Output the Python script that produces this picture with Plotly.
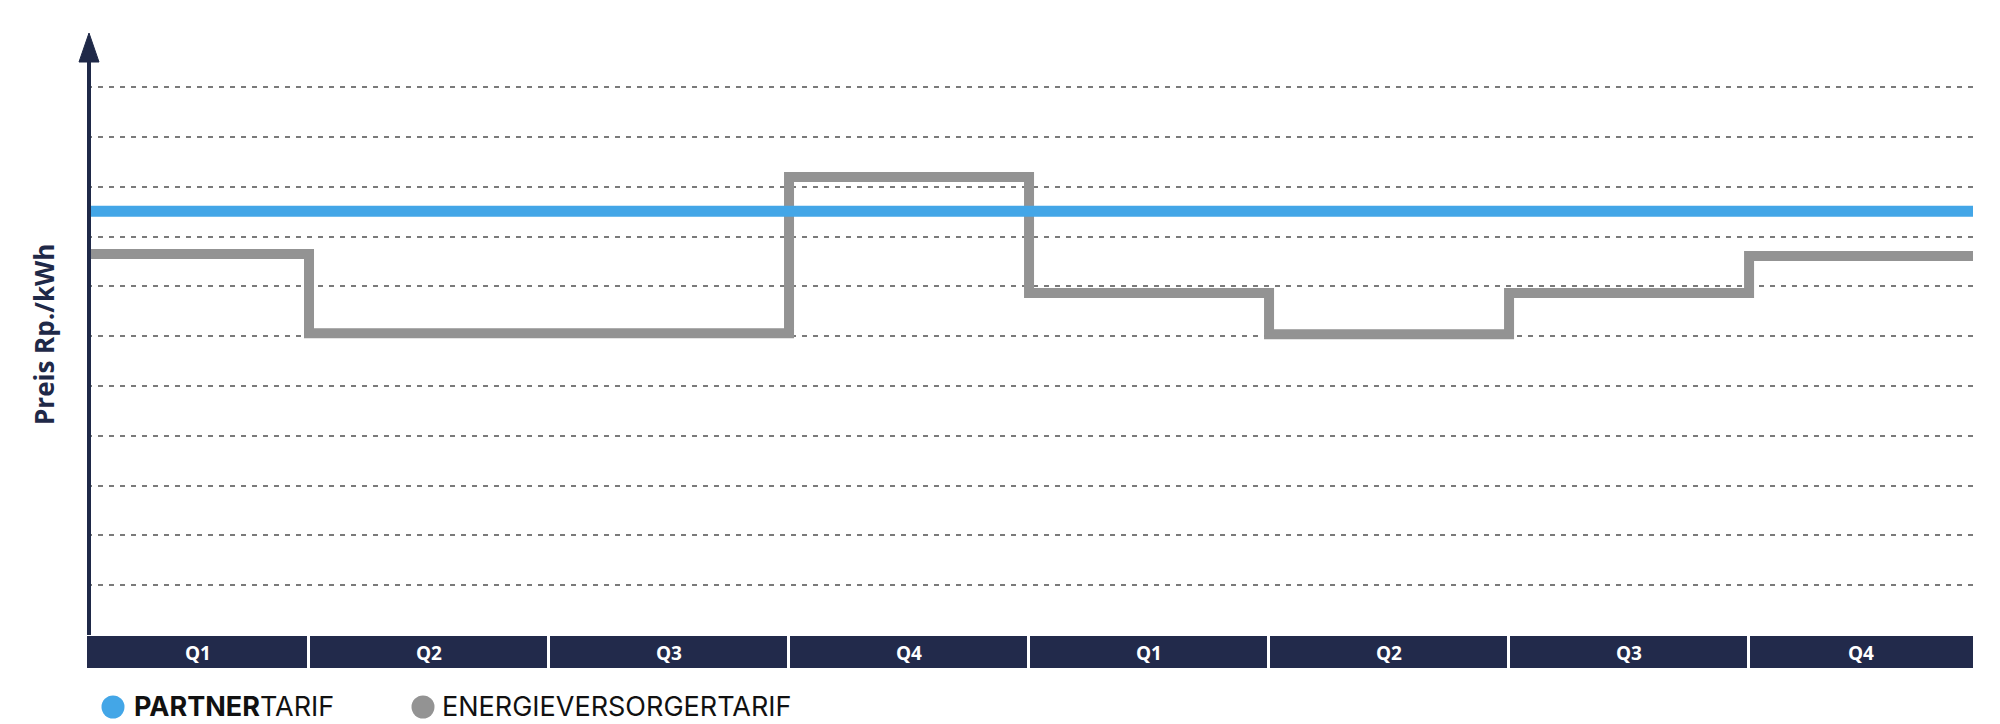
import plotly.graph_objects as go

# ---- data ----
quarters = ["Q1", "Q2", "Q3", "Q4", "Q1", "Q2", "Q3", "Q4"]
quarter_start = [0, 1, 2, 3, 4, 5, 6, 7]
partner_tarif = [8.51, 8.51]            # flat partner tariff
versorger_tarif = [7.65, 6.06, 6.06, 9.20, 6.87, 6.04, 6.87, 7.61]
grid_levels = [1, 2, 3, 4, 5, 6, 7, 8, 9, 10, 11]

# ---- styling ----
NAVY = "#1f2948"
BAND = "#222a4b"
BLUE = "#43a6e7"
GRAY = "#939393"
GRID = "#7a7a7a"
FONT = "Open Sans"
LEG_FONT = "Inter"

X_LO, X_HI = 0.075, 7.933
Y_LO, Y_HI = -0.703, 12.09
band_h = -Y_LO

# page has an 8px body margin; plot area spans x 87..1973, y 33..670 on screen
OFF = 8
W, H = 1886.0, 637.0
LEFT, BOTTOM = 87, 670


def px_x(p):
    return (p - LEFT) / W


def px_y(p):
    return (BOTTOM - p) / H


fig = go.Figure()

# quarter band as bars
fig.add_trace(go.Bar(
    x=[q + 0.5 for q in quarter_start], y=[band_h] * len(quarters), base=Y_LO,
    width=1, marker=dict(color=BAND, line=dict(color="white", width=3)),
    showlegend=False, hoverinfo="skip"))

# energy supplier tariff (step line)
xs = quarter_start + [quarter_start[-1] + 1]
ys = versorger_tarif + [versorger_tarif[-1]]
fig.add_trace(go.Scatter(x=xs, y=ys, mode="lines", line=dict(shape="hv", color=GRAY, width=10),
                         name="ENERGIEVERSORGERTARIF", showlegend=False))

# partner tariff
fig.add_trace(go.Scatter(x=[quarter_start[0], quarter_start[-1] + 1], y=partner_tarif, mode="lines",
                         line=dict(color=BLUE, width=11), name="PARTNERTARIF", showlegend=False))

# quarter labels centred in the visible part of each cell
annotations = []
for q, s in zip(quarters, quarter_start):
    lo, hi = max(s, X_LO), min(s + 1, X_HI)
    annotations.append(dict(x=(lo + hi) / 2, y=Y_LO / 2, xref="x", yref="y", text=f"<b>{q}</b>",
                            xanchor="center", yanchor="middle",
                            showarrow=False, font=dict(family=FONT, size=19, color="white")))

# y-axis title
annotations.append(dict(x=px_x(44), y=px_y(335), xref="paper", yref="paper", text="<b>Preis Rp./kWh</b>",
                        xanchor="center", yanchor="middle",
                        textangle=-90, showarrow=False, font=dict(family=FONT, size=26, color=NAVY)))
# custom legend texts
annotations.append(dict(x=px_x(133), y=px_y(706), xref="paper", yref="paper", xanchor="left", yanchor="middle",
                        text="<b>PARTNER</b>TARIF", showarrow=False, borderpad=0,
                        font=dict(family=LEG_FONT, size=27, color="#111111")))
annotations.append(dict(x=px_x(441), y=px_y(706), xref="paper", yref="paper", xanchor="left", yanchor="middle",
                        text="ENERGIEVERSORGERTARIF", showarrow=False, borderpad=0,
                        font=dict(family=LEG_FONT, size=27, color="#111111")))

shapes = []
# y axis line
shapes.append(dict(type="line", xref="paper", yref="paper", x0=px_x(89), x1=px_x(89), y0=px_y(635), y1=px_y(55),
                   line=dict(color=NAVY, width=4)))
# arrow head
shapes.append(dict(type="path", xref="paper", yref="paper",
                   path=f"M {px_x(79)},{px_y(62)} L {px_x(89)},{px_y(33)} L {px_x(99)},{px_y(62)} Z",
                   fillcolor=NAVY, line=dict(color=NAVY, width=1)))
# legend circles
for cx, col in [(113, BLUE), (423, GRAY)]:
    r = 11.5
    shapes.append(dict(type="circle", xref="paper", yref="paper",
                       x0=px_x(cx - r), x1=px_x(cx + r),
                       y0=px_y(707 + r), y1=px_y(707 - r),
                       fillcolor=col, line=dict(width=0)))

fig.update_layout(
    width=2000 - OFF, height=724 - OFF,
    margin=dict(l=LEFT - OFF, r=2000 - 1973, t=33 - OFF, b=724 - BOTTOM),
    plot_bgcolor="white", paper_bgcolor="white",
    showlegend=False, bargap=0,
    annotations=annotations, shapes=shapes,
    xaxis=dict(range=[X_LO, X_HI], showgrid=False, zeroline=False, showticklabels=False, showline=False),
    yaxis=dict(range=[Y_LO, Y_HI], tickvals=grid_levels, showticklabels=False, zeroline=False,
               showgrid=True, gridcolor=GRID, gridwidth=1.7, griddash="5px,6px", showline=False),
)

fig.write_html("out.html")
